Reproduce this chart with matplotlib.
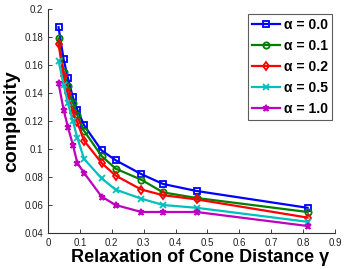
import matplotlib
matplotlib.use("Agg")
import matplotlib.pyplot as plt

plt.rcParams["font.family"] = ["Liberation Sans", "DejaVu Sans"]

gamma = [0.033, 0.049, 0.062, 0.078, 0.092, 0.113, 0.168, 0.212, 0.293, 0.361, 0.466, 0.814]
labels = ["0.0", "0.1", "0.2", "0.5", "1.0"]
c_a00 = [0.187, 0.164, 0.151, 0.137, 0.128, 0.117, 0.099, 0.092, 0.082, 0.075, 0.070, 0.058]
c_a01 = [0.179, 0.155, 0.145, 0.133, 0.124, 0.113, 0.095, 0.086, 0.078, 0.069, 0.065, 0.055]
c_a02 = [0.175, 0.152, 0.140, 0.126, 0.119, 0.106, 0.090, 0.081, 0.071, 0.067, 0.064, 0.051]
c_a05 = [0.163, 0.146, 0.133, 0.120, 0.108, 0.093, 0.079, 0.071, 0.0645, 0.060, 0.058, 0.048]
c_a10 = [0.147, 0.128, 0.116, 0.103, 0.090, 0.083, 0.066, 0.060, 0.055, 0.055, 0.055, 0.045]
series = [c_a00, c_a01, c_a02, c_a05, c_a10]
colors = ["#0000ff", "#008000", "#ff0000", "#00bfbf", "#bf00bf"]
markers = ["s", "o", "d", "x", "*"]

fig = plt.figure(figsize=(3.46, 2.69), dpi=100)
ax = fig.add_axes([48/346, 1-233/269, (335-48)/346, (233-9)/269])
for y, c, m, l in zip(series, colors, markers, labels):
    ax.plot(gamma, y, color=c, marker=m, lw=1.6, ms=4.5, mew=1.3, mfc="none",
            label="α = " + l)
ax.set_xlim(0, 0.9)
ax.set_ylim(0.04, 0.2)
ax.set_xticks([0, 0.1, 0.2, 0.3, 0.4, 0.5, 0.6, 0.7, 0.8, 0.9])
ax.set_xticklabels(["0", "0.1", "0.2", "0.3", "0.4", "0.5", "0.6", "0.7", "0.8", "0.9"])
ax.set_yticks([0.04, 0.06, 0.08, 0.1, 0.12, 0.14, 0.16, 0.18, 0.2])
ax.set_yticklabels(["0.04", "0.06", "0.08", "0.1", "0.12", "0.14", "0.16", "0.18", "0.2"])
ax.tick_params(direction="in", labelsize=7, length=3, width=0.6, colors="#222222")
for s in ["top", "right"]:
    ax.spines[s].set_visible(False)
for s in ["left", "bottom"]:
    ax.spines[s].set_linewidth(0.8)
    ax.spines[s].set_color("#333333")
ax.set_xlabel("Relaxation of Cone Distance γ", fontsize=13, fontweight="bold", labelpad=1)
ax.xaxis.set_label_coords(0.53, -0.075, transform=None) if False else None
ax.xaxis.label.set_x(0.53)
ax.set_ylabel("complexity", fontsize=14, fontweight="bold", labelpad=3)
leg = ax.legend(loc="upper right", prop={"weight": "bold", "size": 10},
                frameon=True, fancybox=False, edgecolor="#333333", borderpad=0.3,
                labelspacing=0.5, handlelength=2.0, handletextpad=0.3,
                borderaxespad=0.2, bbox_to_anchor=(1.0, 0.99))
leg.get_frame().set_linewidth(0.8)
fig.savefig("out.png", dpi=100)
